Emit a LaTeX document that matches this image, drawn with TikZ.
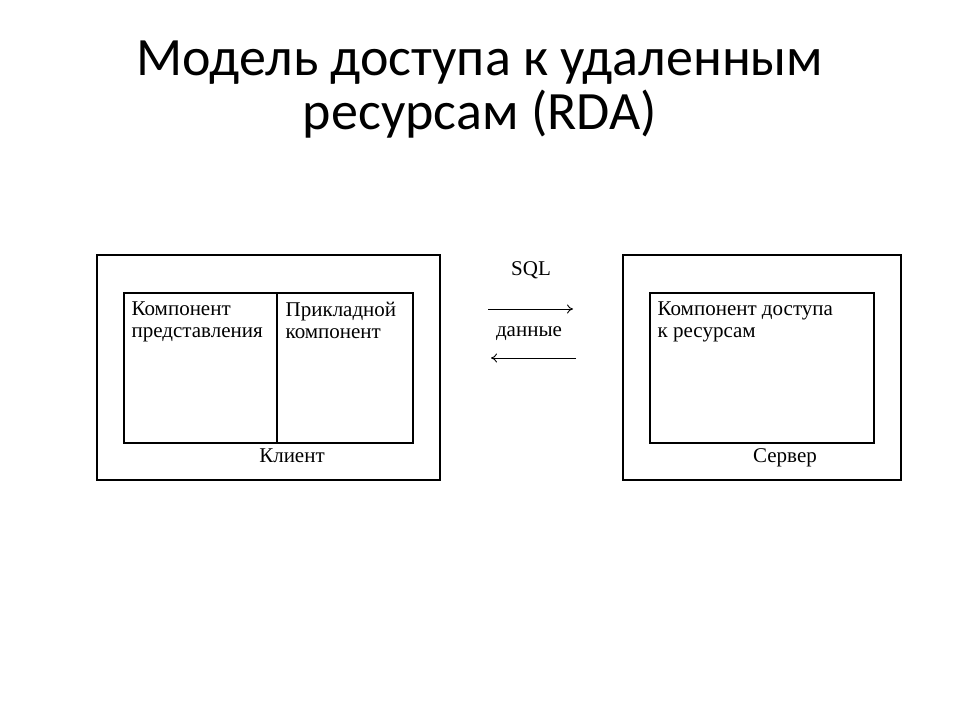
\documentclass[tikz,border=0pt]{standalone}
\usepackage{fontspec}
\setmainfont{Liberation Serif}
\newfontfamily\titlefont{Carlito}
\usetikzlibrary{arrows.meta}

\begin{document}
\begin{tikzpicture}[x=1pt, y=-1pt, line width=1.3pt,
        lbl/.style={inner sep=0pt, font=\fontsize{21}{22}\selectfont},
        cell/.style={lbl, anchor=north west, align=left}]
    \useasboundingbox[fill=white] (0,0) rectangle (960,720);
    % title
    \node[inner sep=0pt, anchor=north, align=center,
          font=\titlefont\fontsize{54}{54}\selectfont] (title) at (480,40)
        {Модель доступа к удаленным\\ресурсам (RDA)};
    % client
    \draw (97,255) rectangle (440,480);
    \draw (124,293) rectangle (413,443);
    \draw (277,293) -- (277,443);
    \node[cell] (pres) at (131,301) {Компонент\\представления};
    \node[cell] (appl) at (285,301) {Прикладной\\компонент};
    \node[lbl, anchor=base] (client) at (292,462) {Клиент};
    % server
    \draw (623,255) rectangle (901,480);
    \draw (650,293) rectangle (874,443);
    \node[cell] (access) at (657,301) {Компонент доступа\\к ресурсам};
    \node[lbl, anchor=base] (server) at (785,462) {Сервер};
    % exchange
    \node[lbl, anchor=base] (sql) at (531,275) {SQL};
    \node[lbl, anchor=base] (data) at (529,336) {данные};
    \coordinate (reqA) at (488,309);
    \coordinate (reqB) at (573,309);
    \coordinate (ansA) at (576,358);
    \coordinate (ansB) at (491,358);
    \draw[line width=0.9pt, -{To[length=6pt,width=9pt]}] (reqA) -- (reqB);
    \draw[line width=0.9pt, -{To[length=6pt,width=9pt]}] (ansA) -- (ansB);
\end{tikzpicture}
\end{document}
